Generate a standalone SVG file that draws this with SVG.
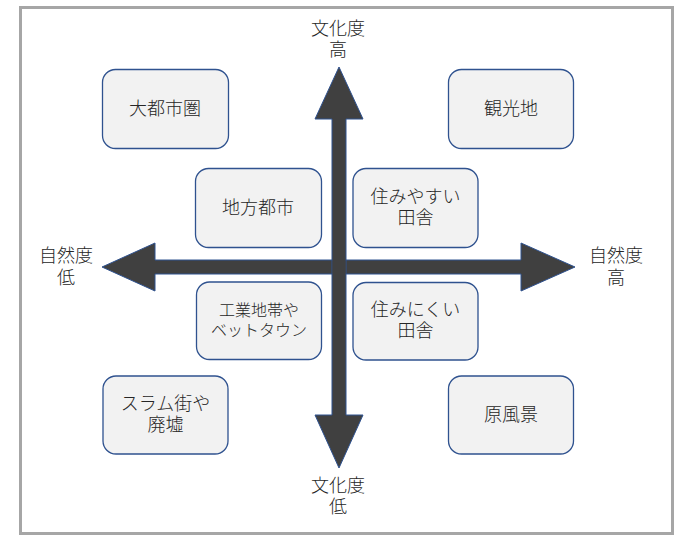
<svg xmlns="http://www.w3.org/2000/svg" width="687" height="542" viewBox="0 0 687 542">
<style>
.frame{fill:#ffffff;stroke:#a6a6a6;stroke-width:3}
.box{fill:#f2f2f2;stroke:#2f528f;stroke-width:1.3}
.arrow{fill:#404040;stroke:#2f528f;stroke-width:1}
text{font-family:"Liberation Sans","Noto Sans CJK JP",sans-serif;font-size:18px;font-weight:300;fill:#262626;text-anchor:middle;dominant-baseline:central}
.small{font-size:16px}
</style>
<rect class="frame" x="20.5" y="7.5" width="652" height="526"/>
<g id="connectors">
<polygon class="arrow" points="102,267 155,243 155,260 521,260 521,243 575,267 521,291 521,274 155,274 155,291"/>
<polygon class="arrow" points="339,67 363,119 346,119 346,415 363,415 339,468 315,415 332,415 332,119 315,119"/>
<rect x="332.5" y="260.5" width="13" height="13" fill="#404040"/>
</g>
<g id="label-top"><text x="338" y="29">文化度</text><text x="338" y="50">高</text></g>
<g id="label-bottom"><text x="338" y="486">文化度</text><text x="338" y="507">低</text></g>
<g id="label-left"><text x="66" y="256">自然度</text><text x="66" y="278">低</text></g>
<g id="label-right"><text x="616" y="256">自然度</text><text x="616" y="278">高</text></g>
<g id="n-daitoshiken"><rect class="box" x="102.5" y="69.5" width="126" height="79" rx="13"/><text x="165" y="109">大都市圏</text></g>
<g id="n-kankouchi"><rect class="box" x="448.5" y="69.5" width="125" height="79" rx="13"/><text x="511" y="109">観光地</text></g>
<g id="n-chihou"><rect class="box" x="195.5" y="168.5" width="126" height="79" rx="13"/><text x="258" y="208">地方都市</text></g>
<g id="n-sumiyasui"><rect class="box" x="353" y="168.5" width="125" height="79" rx="13"/><text x="415.5" y="197">住みやすい</text><text x="415.5" y="218">田舎</text></g>
<g id="n-kougyou"><rect class="box" x="196.5" y="282" width="125" height="77.5" rx="13"/><text class="small" x="259" y="310.5">工業地帯や</text><text class="small" x="259" y="330">ベットタウン</text></g>
<g id="n-suminikui"><rect class="box" x="353" y="282.5" width="125" height="77.5" rx="13"/><text x="415.5" y="310">住みにくい</text><text x="415.5" y="331">田舎</text></g>
<g id="n-slum"><rect class="box" x="103" y="376" width="125" height="78" rx="13"/><text x="165.5" y="404">スラム街や</text><text x="165.5" y="425">廃墟</text></g>
<g id="n-genfukei"><rect class="box" x="448.5" y="376" width="125" height="78" rx="13"/><text x="511" y="415">原風景</text></g>
</svg>
